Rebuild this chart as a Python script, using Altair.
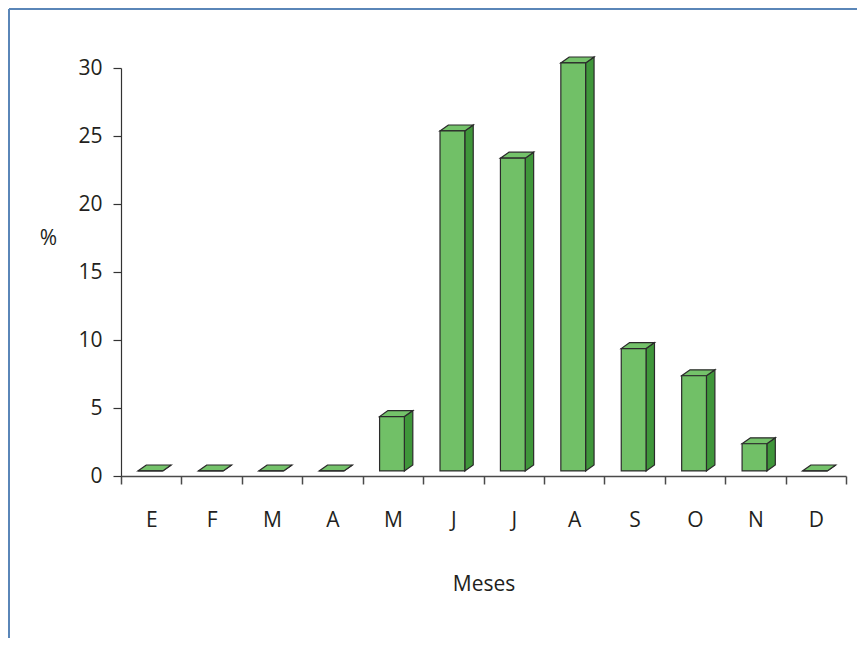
import json
import altair as alt
import pandas as pd

# ---- data ----
months = ["E", "F", "M", "A", "M", "J", "J", "A", "S", "O", "N", "D"]
values = [0, 0, 0, 0, 4, 25, 23, 30, 9, 7, 2, 0]
y_ticks = [0, 5, 10, 15, 20, 25, 30]

# ---- pseudo-3D geometry (in data units of the band / value scales) ----
FL, FR = 0.28, 0.69   # front face position inside each month's band
DX = 0.14             # depth shift along x
B = 0.37              # lift of the bar floor above the axis
DY = 0.44             # depth shift along y

front, side, top = [], [], []
for i, v in enumerate(values):
    front.append({"i": i, "x": i + FL, "x2": i + FR, "y": B, "y2": B + v})
    side.append({"i": i, "x": i + FR, "y": B, "y2": B + v})
    side.append({"i": i, "x": i + FR + DX, "y": B + DY, "y2": B + v + DY})
    top.append({"i": i, "y": B + v, "x": i + FL, "x2": i + FR})
    top.append({"i": i, "y": B + v + DY, "x": i + FL + DX, "x2": i + FR + DX})

df_front = pd.DataFrame(front)
df_side = pd.DataFrame(side)
df_top = pd.DataFrame(top)

FONT = "Open Sans"
FS = 21
TXT = "#231f20"
STROKE = "#2b2b2b"
C_FRONT = "#71c067"
C_TOP = "#74c26a"
C_SIDE = "#3f963a"
FRAME = "#5a86b8"

W, H = 725, 408
x_scale = alt.Scale(domain=[0, 12], nice=False, zero=False)
y_scale = alt.Scale(domain=[0, 30], nice=False, zero=False)

label_expr = "(" + json.dumps(months + [""]) + ")[datum.value]"

x_axis = alt.Axis(
    values=list(range(13)), labelExpr=label_expr, labelOffset=W / 24,
    labelFlush=False, labelOverlap=False, labelBaseline="middle",
    labelPadding=36, labelFont=FONT, labelFontSize=FS, labelColor=TXT,
    tickSize=8, tickColor="#4a4a4a", tickWidth=1.5,
    domainColor="#4a4a4a", domainWidth=1.5,
    title="Meses", titleFont=FONT, titleFontSize=FS, titleFontWeight="normal",
    titleColor=TXT, titleY=108, titleBaseline="middle",
)
y_axis = alt.Axis(
    values=y_ticks, labelFont=FONT, labelFontSize=FS, labelColor=TXT,
    labelPadding=11, tickSize=8, tickColor="#333333", tickWidth=1.2,
    domainColor="#333333", domainWidth=1.2,
    title="%", titleAngle=0, titleX=-73, titleY=170, titleAlign="center",
    titleBaseline="middle", titleFont=FONT, titleFontSize=FS,
    titleFontWeight="normal", titleColor=TXT,
)

X = lambda f: alt.X(f, scale=x_scale, axis=x_axis)
Y = lambda f: alt.Y(f, scale=y_scale, axis=y_axis)

front_layer = alt.Chart(df_front).mark_rect(
    color=C_FRONT, stroke=STROKE, strokeWidth=1.2
).encode(
    x=X("x:Q"), x2="x2:Q", y=Y("y:Q"), y2="y2:Q",
)

side_layer = alt.Chart(df_side).mark_area(
    orient="vertical", color=C_SIDE, stroke=STROKE, strokeWidth=1.2
).encode(
    x=X("x:Q"), y=Y("y:Q"), y2="y2:Q", detail="i:N",
)

top_layer = alt.Chart(df_top).mark_area(
    orient="horizontal", color=C_TOP, stroke=STROKE, strokeWidth=1.2
).encode(
    y=Y("y:Q"), x=X("x:Q"), x2="x2:Q", detail="i:N",
)

frame_df = pd.DataFrame({"k": [0]})
frame_top = alt.Chart(frame_df).mark_rule(color=FRAME, strokeWidth=2).encode(
    x=alt.value(-112), x2=alt.value(740), y=alt.value(-59)
)
frame_left = alt.Chart(frame_df).mark_rule(color=FRAME, strokeWidth=2).encode(
    x=alt.value(-112), y=alt.value(-59), y2=alt.value(575)
)

chart = alt.layer(
    side_layer, top_layer, front_layer, frame_top, frame_left
).properties(
    width=W, height=H,
    autosize=alt.AutoSizeParams(type="none"),
    padding={"left": 113, "top": 60, "right": 11, "bottom": 162},
).configure_view(stroke=None).configure_axis(grid=False)

chart.save("out.html", embed_options={"renderer": "svg", "actions": False})
